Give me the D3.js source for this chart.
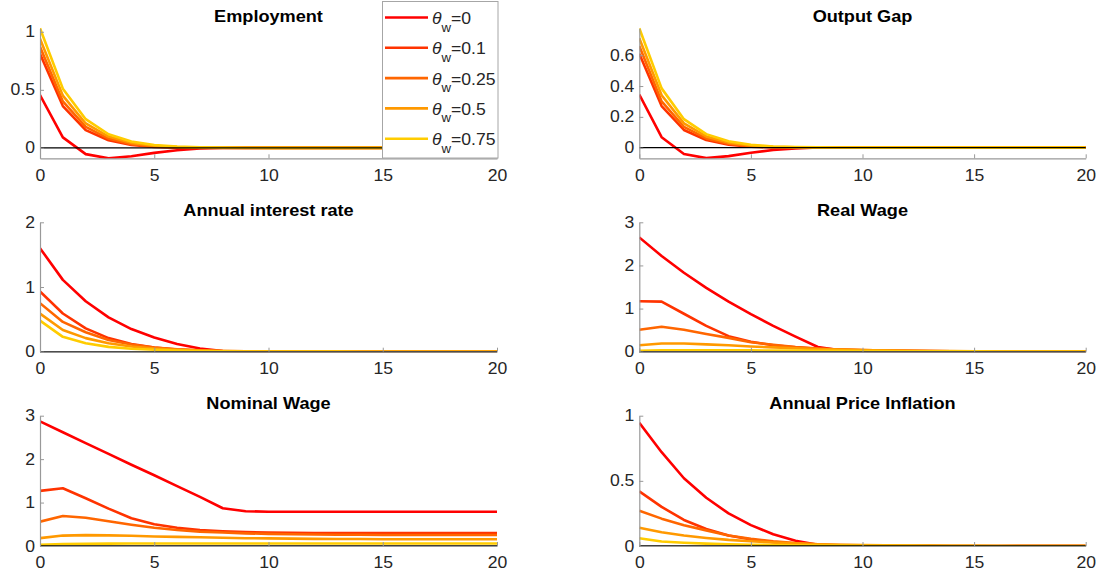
<!DOCTYPE html>
<html>
<head>
<meta charset="utf-8">
<script src="https://cdn.jsdelivr.net/npm/d3@7"></script>
<style>
  html, body { margin: 0; padding: 0; background: #fff; }
  svg { display: block; }
  text { font-family: "Liberation Sans", Arial, Helvetica, sans-serif; }
</style>
</head>
<body>
<svg id="fig" width="1115" height="578"></svg>
<script>
// Impulse responses over 20 quarters for five degrees of wage rigidity.
const periods = [0, 1, 2, 3, 4, 5, 6, 7, 8, 9, 10, 11, 12, 13, 14, 15, 16, 17, 18, 19, 20];
const thetaLabels = ["0", "0.1", "0.25", "0.5", "0.75"];
const seriesColors = ["#ff0000", "#ff3300", "#ff6600", "#ff9900", "#ffcc00"];
const xTicks = [0, 5, 10, 15, 20];

// Employment
const employment = [
  [0.455, 0.09, -0.054, -0.09, -0.072, -0.043, -0.02, -0.006, 0.001, 0.003, 0.003, 0.002, 0.002, 0.001, 0.001, 0.0005, 0, 0, 0, 0, 0],
  [0.81, 0.36, 0.153, 0.066, 0.024, 0.008, 0.002, 0, -0.001, -0.001, 0, 0, 0, 0, 0, 0, 0, 0, 0, 0, 0],
  [0.87, 0.40, 0.18, 0.08, 0.032, 0.012, 0.004, 0.001, 0, 0, 0, 0, 0, 0, 0, 0, 0, 0, 0, 0, 0],
  [0.94, 0.45, 0.21, 0.097, 0.043, 0.018, 0.007, 0.002, 0.001, 0, 0, 0, 0, 0, 0, 0, 0, 0, 0, 0, 0],
  [1.03, 0.51, 0.247, 0.117, 0.055, 0.025, 0.011, 0.005, 0.002, 0.001, 0, 0, 0, 0, 0, 0, 0, 0, 0, 0, 0]
];
const employmentTicks = [0, 0.5, 1];

// Output gap
const outputGap = [
  [0.345, 0.068, -0.041, -0.068, -0.055, -0.033, -0.015, -0.005, 0.001, 0.002, 0.002, 0.002, 0.001, 0.001, 0.001, 0, 0, 0, 0, 0, 0],
  [0.61, 0.27, 0.115, 0.05, 0.019, 0.006, 0.002, 0, 0, 0, 0, 0, 0, 0, 0, 0, 0, 0, 0, 0, 0],
  [0.66, 0.30, 0.135, 0.06, 0.025, 0.009, 0.003, 0.001, 0, 0, 0, 0, 0, 0, 0, 0, 0, 0, 0, 0, 0],
  [0.71, 0.34, 0.158, 0.073, 0.033, 0.014, 0.005, 0.002, 0.001, 0, 0, 0, 0, 0, 0, 0, 0, 0, 0, 0, 0],
  [0.775, 0.385, 0.185, 0.088, 0.042, 0.019, 0.008, 0.004, 0.002, 0.001, 0, 0, 0, 0, 0, 0, 0, 0, 0, 0, 0]
];
const outputGapTicks = [0, 0.2, 0.4, 0.6];

// Annual interest rate
const interestRate = [
  [1.60, 1.11, 0.78, 0.53, 0.35, 0.22, 0.12, 0.05, 0.01, -0.005, -0.008, -0.008, -0.006, -0.005, -0.004, -0.003, -0.002, -0.002, -0.001, -0.001, -0.001],
  [0.93, 0.59, 0.36, 0.21, 0.12, 0.065, 0.035, 0.017, 0.008, 0.004, 0.002, 0.001, 0, 0, 0, 0, 0, 0, 0, 0, 0],
  [0.75, 0.46, 0.30, 0.18, 0.11, 0.065, 0.038, 0.02, 0.01, 0.005, 0.003, 0.002, 0.001, 0, 0, 0, 0, 0, 0, 0, 0],
  [0.59, 0.335, 0.21, 0.13, 0.08, 0.05, 0.03, 0.018, 0.01, 0.006, 0.004, 0.002, 0.001, 0.001, 0, 0, 0, 0, 0, 0, 0],
  [0.48, 0.23, 0.13, 0.075, 0.045, 0.03, 0.018, 0.011, 0.007, 0.004, 0.003, 0.002, 0.001, 0.001, 0, 0, 0, 0, 0, 0, 0]
];
const interestTicks = [0, 1, 2];

// Real wage
const realWage = [
  [2.65, 2.22, 1.83, 1.48, 1.16, 0.87, 0.60, 0.35, 0.11, 0.03, 0.01, -0.005, -0.01, -0.01, -0.008, -0.006, -0.005, -0.004, -0.003, -0.002, -0.002],
  [1.17, 1.16, 0.88, 0.60, 0.36, 0.23, 0.15, 0.10, 0.07, 0.05, 0.035, 0.025, 0.018, 0.013, 0.01, 0.007, 0.005, 0.004, 0.003, 0.002, 0.002],
  [0.51, 0.58, 0.51, 0.41, 0.32, 0.22, 0.16, 0.11, 0.075, 0.052, 0.036, 0.025, 0.018, 0.013, 0.009, 0.007, 0.005, 0.004, 0.003, 0.002, 0.002],
  [0.15, 0.19, 0.19, 0.17, 0.15, 0.12, 0.10, 0.08, 0.06, 0.047, 0.037, 0.029, 0.022, 0.017, 0.013, 0.01, 0.008, 0.006, 0.005, 0.004, 0.003],
  [0.02, 0.03, 0.035, 0.035, 0.033, 0.03, 0.027, 0.024, 0.021, 0.018, 0.015, 0.013, 0.011, 0.009, 0.008, 0.007, 0.006, 0.005, 0.004, 0.003, 0.003]
];
const realWageTicks = [0, 1, 2, 3];

// Nominal wage
const nominalWage = [
  [2.87, 2.62, 2.37, 2.12, 1.87, 1.63, 1.38, 1.13, 0.87, 0.80, 0.79, 0.79, 0.79, 0.79, 0.79, 0.79, 0.79, 0.79, 0.79, 0.79, 0.79],
  [1.27, 1.33, 1.10, 0.86, 0.64, 0.50, 0.42, 0.37, 0.34, 0.32, 0.31, 0.305, 0.30, 0.30, 0.30, 0.30, 0.30, 0.30, 0.30, 0.30, 0.30],
  [0.56, 0.69, 0.65, 0.57, 0.49, 0.42, 0.37, 0.33, 0.31, 0.29, 0.28, 0.27, 0.265, 0.26, 0.26, 0.255, 0.255, 0.255, 0.255, 0.255, 0.255],
  [0.18, 0.24, 0.25, 0.245, 0.235, 0.22, 0.21, 0.20, 0.19, 0.18, 0.175, 0.17, 0.165, 0.16, 0.16, 0.155, 0.155, 0.155, 0.155, 0.155, 0.155],
  [0.03, 0.045, 0.05, 0.055, 0.057, 0.058, 0.058, 0.058, 0.058, 0.058, 0.058, 0.058, 0.058, 0.058, 0.058, 0.058, 0.058, 0.058, 0.058, 0.058, 0.058]
];
const nominalWageTicks = [0, 1, 2, 3];

// Annual price inflation
const inflation = [
  [0.946, 0.72, 0.52, 0.37, 0.25, 0.16, 0.09, 0.04, 0.01, -0.003, -0.006, -0.006, -0.005, -0.004, -0.003, -0.002, -0.002, -0.001, -0.001, -0.001, 0],
  [0.42, 0.30, 0.20, 0.13, 0.08, 0.05, 0.03, 0.016, 0.008, 0.004, 0.002, 0.001, 0, 0, 0, 0, 0, 0, 0, 0, 0],
  [0.27, 0.21, 0.16, 0.12, 0.08, 0.055, 0.036, 0.022, 0.013, 0.008, 0.005, 0.003, 0.002, 0.001, 0, 0, 0, 0, 0, 0, 0],
  [0.14, 0.105, 0.08, 0.062, 0.047, 0.036, 0.027, 0.02, 0.014, 0.01, 0.007, 0.005, 0.004, 0.003, 0.002, 0.001, 0, 0, 0, 0, 0],
  [0.06, 0.035, 0.025, 0.018, 0.013, 0.01, 0.008, 0.006, 0.004, 0.003, 0.002, 0.002, 0.001, 0, 0, 0, 0, 0, 0, 0, 0]
];
const inflationTicks = [0, 0.5, 1];

// Panel layout: plot-box edges in pixels plus y-axis limits
const columns = [{ left: 40, right: 497 }, { left: 639.3, right: 1085.7 }];
const rows = [{ top: 28.3, bottom: 158.3 }, { top: 222.3, bottom: 351.7 }, { top: 415.7, bottom: 546 }];

const panels = [
  { title: "Employment", data: employment, ticks: employmentTicks, ylim: [-0.09, 1.03], col: 0, row: 0 },
  { title: "Output Gap", data: outputGap, ticks: outputGapTicks, ylim: [-0.069, 0.775], col: 1, row: 0 },
  { title: "Annual interest rate", data: interestRate, ticks: interestTicks, ylim: [0, 2], col: 0, row: 1 },
  { title: "Real Wage", data: realWage, ticks: realWageTicks, ylim: [0, 3], col: 1, row: 1 },
  { title: "Nominal Wage", data: nominalWage, ticks: nominalWageTicks, ylim: [0, 3], col: 0, row: 2 },
  { title: "Annual Price Inflation", data: inflation, ticks: inflationTicks, ylim: [0, 1], col: 1, row: 2 }
];

const svg = d3.select("#fig");
const stretch = "scale(1.1,1)";
const axisColor = "#999999";
const labelColor = "#262626";

panels.forEach((p, i) => {
  const c = columns[p.col], r = rows[p.row];
  const x = d3.scaleLinear().domain([periods[0], periods[periods.length - 1]]).range([c.left, c.right]);
  const y = d3.scaleLinear().domain(p.ylim).range([r.bottom, r.top]);

  const clipId = "clip" + i;
  svg.append("clipPath").attr("id", clipId)
    .append("rect")
    .attr("x", c.left).attr("y", r.top - 1)
    .attr("width", c.right - c.left).attr("height", r.bottom - r.top + 1.5);

  const g = svg.append("g");

  // response lines
  const line = d3.line().x((d, k) => x(periods[k])).y(d => y(d));
  g.append("g").attr("clip-path", `url(#${clipId})`)
    .selectAll("path")
    .data(p.data)
    .join("path")
    .attr("d", d => line(d))
    .attr("fill", "none")
    .attr("stroke", (d, k) => seriesColors[k])
    .attr("stroke-width", 2.6)
    .attr("stroke-linejoin", "round");

  // zero reference line
  g.append("line")
    .attr("x1", x(0)).attr("x2", x(20))
    .attr("y1", y(0)).attr("y2", y(0))
    .attr("stroke", "#000").attr("stroke-width", 1.4);

  // axes
  const xAxis = d3.axisBottom(x).tickValues(xTicks).tickSizeInner(-4).tickSizeOuter(0).tickPadding(11);
  const yAxis = d3.axisLeft(y).tickValues(p.ticks).tickSizeInner(-4).tickSizeOuter(0).tickPadding(4.5)
    .tickFormat(d3.format("~g"));

  const gx = g.append("g").attr("transform", `translate(0,${r.bottom})`).call(xAxis);
  const gy = g.append("g").attr("transform", `translate(${c.left},0)`).call(yAxis);
  [gx, gy].forEach(a => {
    a.select(".domain").attr("stroke", axisColor).attr("stroke-width", 1.2);
    a.selectAll(".tick line").attr("stroke", axisColor).attr("stroke-width", 1);
    a.selectAll(".tick text")
      .attr("fill", labelColor)
      .style("font-size", "16px")
      .attr("transform", stretch);
  });

  // title
  const cx = (c.left + c.right) / 2;
  g.append("text")
    .attr("transform", `translate(${cx},${r.top - 6.6}) ${stretch}`)
    .attr("text-anchor", "middle")
    .style("font-size", "16.5px")
    .style("font-weight", "bold")
    .attr("fill", "#000")
    .text(p.title);
});

// legend drawn over the first panel
const legend = svg.append("g");
legend.append("rect")
  .attr("x", 382.5).attr("y", 1.5)
  .attr("width", 115.5).attr("height", 156.5)
  .attr("fill", "#fff").attr("stroke", "#a6a6a6").attr("stroke-width", 1);

thetaLabels.forEach((lab, k) => {
  const yy = 17.5 + k * 30.3;
  legend.append("line")
    .attr("x1", 385).attr("x2", 428)
    .attr("y1", yy).attr("y2", yy)
    .attr("stroke", seriesColors[k]).attr("stroke-width", 2.6);
  const t = legend.append("text")
    .attr("transform", `translate(432,${yy + 6.5}) ${stretch}`)
    .attr("fill", labelColor)
    .style("font-size", "16px");
  t.append("tspan").style("font-style", "italic").text("θ");
  t.append("tspan").attr("dy", 7.5).style("font-size", "12px").text("w");
  t.append("tspan").attr("dy", -7.5).text("=" + lab);
});
</script>
</body>
</html>
